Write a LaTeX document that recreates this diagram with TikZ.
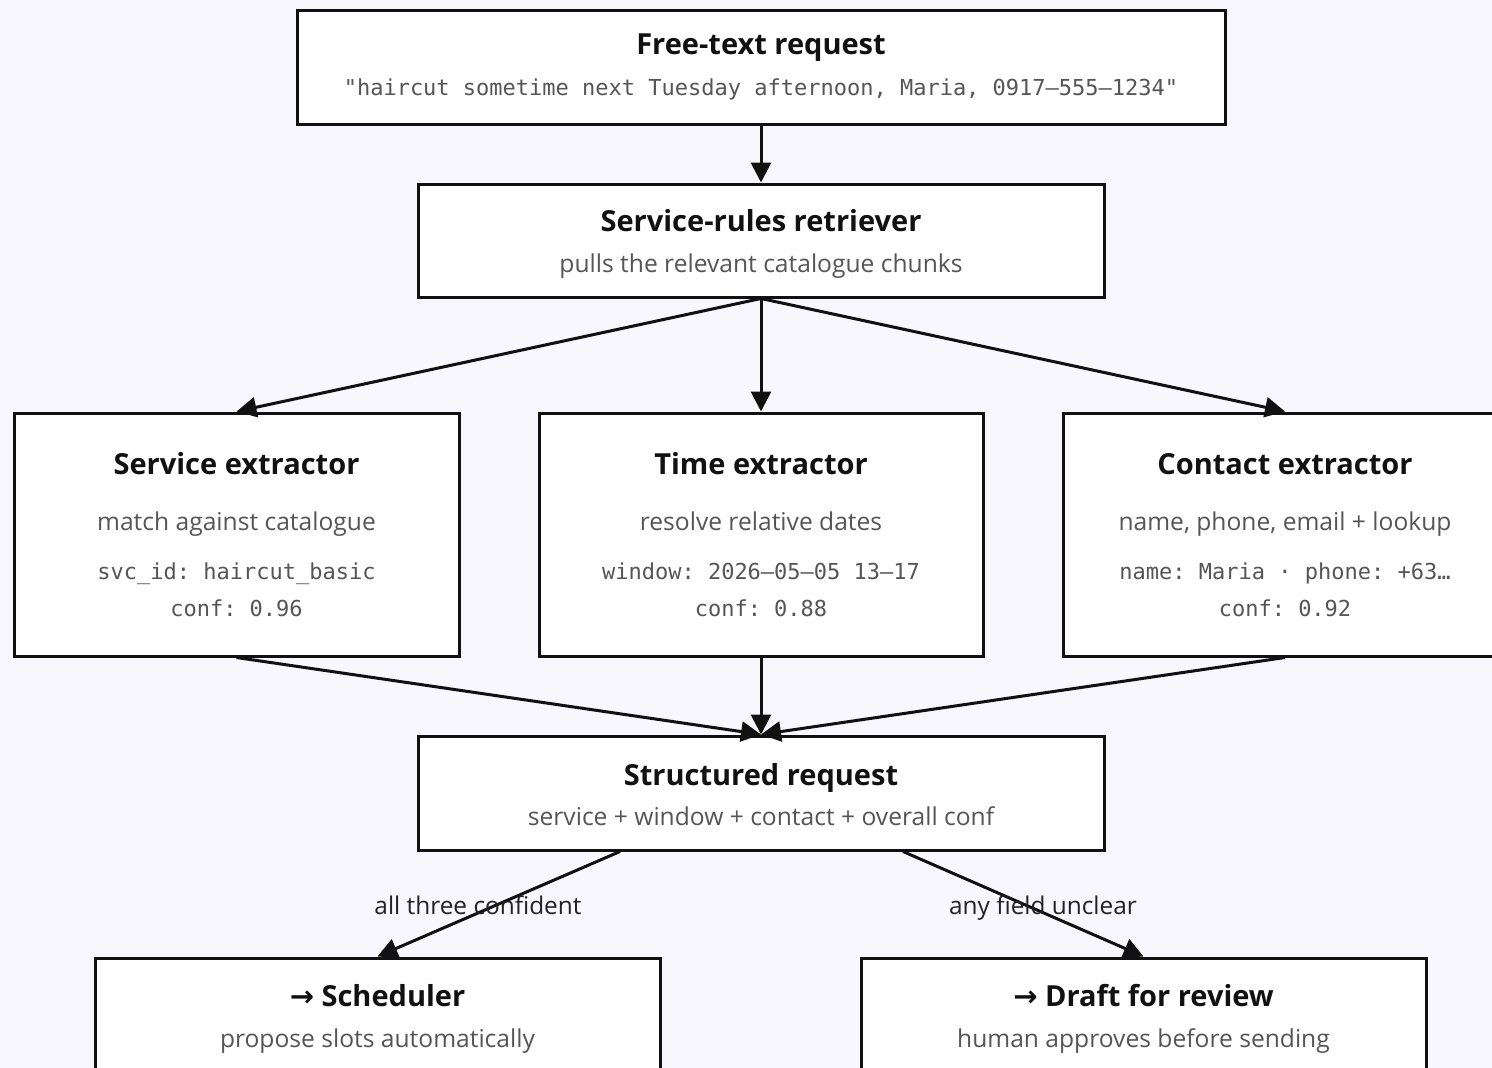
\documentclass[tikz,border=0pt]{standalone}
\usepackage{fontspec}
\setmainfont{Open Sans}
\setmonofont{DejaVu Sans Mono}
\newfontfamily\arrowfont{DejaVu Sans}
\usetikzlibrary{arrows.meta,calc}
\definecolor{canvas}{HTML}{F8F7FD}
\definecolor{ink}{HTML}{111111}
\definecolor{muted}{HTML}{555555}
\definecolor{labelink}{HTML}{222222}

\begin{document}
\begin{tikzpicture}[x=1pt,y=-1pt,
  box/.style={draw=ink,fill=white,line width=3pt,rectangle,inner sep=0pt},
  ttl/.style={anchor=base,inner sep=0pt,text=ink,font=\bfseries\fontsize{29}{34}\selectfont},
  sub/.style={anchor=base,inner sep=0pt,text=muted,font=\fontsize{24.6}{29}\selectfont},
  code/.style={anchor=base,inner sep=0pt,text=muted,font=\ttfamily\fontsize{22}{26}\selectfont},
  edgelabel/.style={anchor=base,inner sep=0pt,text=labelink,font=\fontsize{24.4}{29}\selectfont},
  flow/.style={draw=ink,line width=3pt,-{Triangle[length=20pt,width=20pt]}},
]
\useasboundingbox (0,0) rectangle (1492,1068);
\fill[canvas] (0,0) rectangle (1492,1068);
\clip (0,0) rectangle (1492,1068);

% boxes
\node[box,minimum width=928pt,minimum height=114pt] (req) at (761,67) {};
\node[box,minimum width=686pt,minimum height=113pt] (ret) at (761,240.5) {};
\node[box,minimum width=445pt,minimum height=243pt] (svc) at (236.5,534.5) {};
\node[box,minimum width=444pt,minimum height=243pt] (tim) at (761,534.5) {};
\node[box,minimum width=444pt,minimum height=243pt] (con) at (1285,534.5) {};
\node[box,minimum width=686pt,minimum height=114pt] (str) at (761,793) {};
\node[box,minimum width=565pt,minimum height=114pt] (sch) at (377.5,1015) {};
\node[box,minimum width=565pt,minimum height=114pt] (drf) at (1143.5,1015) {};

% texts
\node[ttl]  (req-t) at (761,54) {Free-text request};
\node[code] (req-c) at (761,95) {"haircut sometime next Tuesday afternoon, Maria, 0917–555–1234"};

\node[ttl] (ret-t) at (761,231) {Service-rules retriever};
\node[sub] (ret-s) at (761,272) {pulls the relevant catalogue chunks};

\node[ttl]  (svc-t)  at (236.5,474) {Service extractor};
\node[sub]  (svc-s)  at (236.5,530) {match against catalogue};
\node[code] (svc-c1) at (236.5,579) {svc\_id: haircut\_basic};
\node[code] (svc-c2) at (236.5,616) {conf: 0.96};

\node[ttl]  (tim-t)  at (761,474) {Time extractor};
\node[sub]  (tim-s)  at (761,530) {resolve relative dates};
\node[code] (tim-c1) at (761,579) {window: 2026–05–05 13–17};
\node[code] (tim-c2) at (761,616) {conf: 0.88};

\node[ttl]  (con-t)  at (1285,474) {Contact extractor};
\node[sub]  (con-s)  at (1285,530) {name, phone, email + lookup};
\node[code] (con-c1) at (1285,579) {name: Maria · phone: +63…};
\node[code] (con-c2) at (1285,616) {conf: 0.92};

\node[ttl] (str-t) at (761,785) {Structured request};
\node[sub] (str-s) at (761,825) {service + window + contact + overall conf};

\node[ttl] (sch-t) at (377.5,1006) {{\arrowfont →} Scheduler};
\node[sub] (sch-s) at (377.5,1047) {propose slots automatically};

\node[ttl] (drf-t) at (1143.5,1006) {{\arrowfont →} Draft for review};
\node[sub] (drf-s) at (1143.5,1047) {human approves before sending};

% connectors
\draw[flow] (req.south) -- (ret.north);
\draw[flow] (ret.south) -- (svc.north);
\draw[flow] (ret.south) -- (tim.north);
\draw[flow] (ret.south) -- (con.north);
\draw[flow] (svc.south) -- (str.north);
\draw[flow] (tim.south) -- (str.north);
\draw[flow] (con.south) -- (str.north);
\draw[flow] ($(str.south)+(-141,0)$) -- (sch.north);
\draw[flow] ($(str.south)+(142,0)$) -- (drf.north);

% branch labels
\node[edgelabel] (yes-l) at (478,914) {all three confident};
\node[edgelabel] (no-l) at (1043,914) {any field unclear};
\end{tikzpicture}
\end{document}
